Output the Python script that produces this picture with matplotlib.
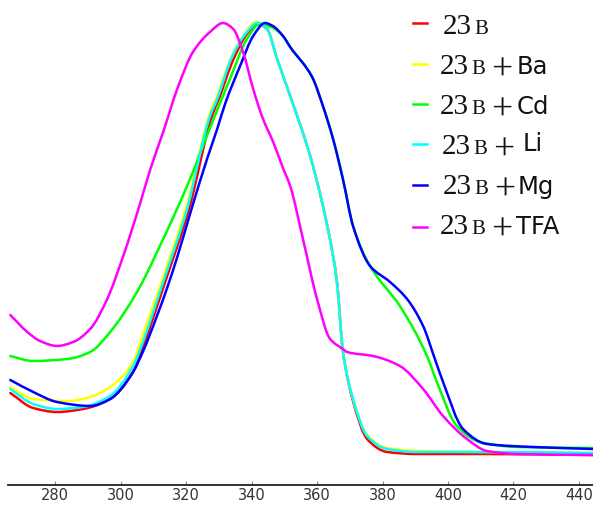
import matplotlib
matplotlib.use("Agg")
import numpy as np
import matplotlib.pyplot as plt
from matplotlib.lines import Line2D
from matplotlib.path import Path
from matplotlib.patches import PathPatch

# ---- data (wavelength nm, signal in arbitrary units) ----
red_wl = [266.3, 273.3, 280.6, 288.5, 296.8, 303.8, 306.6, 313.6, 320.9, 327.9, 330.0, 334.5,
          338.8, 341.7, 344.7, 347.8, 351.8, 357.9, 361.8, 364.9, 366.1, 367.9, 371.0, 375.3,
          381.4, 390.5, 410.7, 444.3]
red_val = [93, 78, 74, 77, 87, 114, 137, 204, 277, 370, 387, 427,
           453, 462, 457, 427, 390, 330, 280, 230, 204, 135, 85, 47,
           34, 32, 32, 31]

yellow_wl = [266.3, 273.3, 283.7, 290.7, 296.8, 303.8, 306.0, 313.0, 320.3, 327.3, 329.5, 334.0,
             338.6, 341.2, 344.7, 347.8, 351.8, 357.9, 361.8, 364.9, 366.1, 367.9, 371.0, 375.3,
             381.4, 390.5, 410.7, 444.3]
yellow_val = [99, 87, 85, 89, 99, 124, 144, 209, 282, 373, 390, 430,
              455, 464, 457, 427, 390, 330, 280, 230, 202, 135, 87, 51,
              38, 35, 34, 33]

green_wl = [266.3, 273.3, 283.7, 290.7, 296.8, 305.0, 313.0, 320.3, 327.3, 333.4, 338.6, 342.5,
            346.0, 349.6, 351.8, 358.5, 361.8, 364.9, 367.9, 371.0, 376.2, 385.3, 393.6, 396.6,
            402.7, 409.8, 421.1, 444.3]
green_val = [130, 125, 127, 134, 154, 194, 247, 300, 358, 407, 447, 462,
             459, 450, 439, 409, 380, 347, 307, 260, 220, 180, 130, 104,
             60, 44, 39, 38]

cyan_wl = [266.3, 273.3, 280.6, 288.5, 296.8, 303.8, 306.0, 313.0, 320.3, 327.3, 329.5, 334.0,
           338.6, 341.7, 344.7, 347.8, 351.8, 357.9, 361.8, 364.9, 366.1, 367.9, 371.0, 375.3,
           381.4, 390.5, 410.7, 444.3]
cyan_val = [97, 82, 77, 79, 90, 120, 137, 204, 277, 370, 387, 429,
            454, 463, 457, 427, 390, 330, 280, 230, 202, 135, 87, 50,
            37, 34, 34, 33]

blue_wl = [266.3, 273.3, 280.6, 290.7, 296.8, 303.8, 306.9, 311.1, 314.2, 317.3, 321.2, 326.4,
           329.5, 331.9, 336.5, 340.5, 344.1, 346.5, 349.6, 351.8, 358.5, 361.8, 364.9, 367.9,
           371.0, 376.2, 382.3, 387.5, 392.4, 396.0, 398.5, 404.6, 411.9, 426.0, 444.3]
blue_val = [106, 94, 84, 80, 87, 114, 135, 170, 198, 229, 272, 327,
            357, 382, 420, 450, 463, 460, 450, 439, 409, 380, 347, 307,
            260, 220, 204, 187, 160, 127, 104, 57, 42, 39, 37]

magenta_wl = [266.3, 271.5, 275.4, 280.6, 285.5, 290.7, 295.9, 300.8, 306.0, 309.0, 313.0, 317.3,
              322.1, 327.3, 331.3, 334.4, 337.4, 340.5, 343.5, 346.6, 349.6, 351.8, 355.7, 360.0,
              364.0, 367.9, 369.2, 377.1, 385.3, 392.4, 398.5, 405.8, 411.9, 421.1, 444.3]
magenta_val = [171, 154, 145, 140, 144, 157, 187, 230, 283, 316, 354, 397,
               434, 454, 463, 457, 434, 397, 367, 344, 318, 300, 247, 187,
               147, 137, 134, 130, 120, 97, 70, 47, 35, 32, 31]

x_ticks = [280, 300, 320, 340, 360, 380, 400, 420, 440]

series = [
    (red_wl, red_val, "#ff0000", "", 0),
    (yellow_wl, yellow_val, "#ffff00", "Ba", 0),
    (green_wl, green_val, "#00ff00", "Cd", 0),
    (cyan_wl, cyan_val, "#00ffff", "Li", 3),
    (blue_wl, blue_val, "#0000ff", "Mg", 0),
    (magenta_wl, magenta_val, "#ff00ff", "TFA", 0),
]


def smooth_path(x, y):
    """Monotone cubic Hermite (PCHIP) through the points, expressed as Bezier segments."""
    x = np.asarray(x, float)
    y = np.asarray(y, float)
    h = np.diff(x)
    d = np.diff(y) / h
    n = len(x)
    m = np.zeros(n)
    for k in range(1, n - 1):
        if d[k - 1] * d[k] <= 0:
            m[k] = 0.0
        else:
            w1 = 2 * h[k] + h[k - 1]
            w2 = h[k] + 2 * h[k - 1]
            m[k] = (w1 + w2) / (w1 / d[k - 1] + w2 / d[k])
    m[0] = d[0]
    m[-1] = d[-1]
    verts = [(x[0], y[0])]
    codes = [Path.MOVETO]
    for k in range(n - 1):
        verts += [(x[k] + h[k] / 3, y[k] + m[k] * h[k] / 3),
                  (x[k + 1] - h[k] / 3, y[k + 1] - m[k + 1] * h[k] / 3),
                  (x[k + 1], y[k + 1])]
        codes += [Path.CURVE4] * 3
    return Path(verts, codes)


W, H = 593, 505
fig = plt.figure(figsize=(W / 100, H / 100), dpi=100)
ax = fig.add_axes([8 / W, 20 / H, 585 / W, 485 / H])

for wl, val, col, _, _ in series:
    ax.add_patch(PathPatch(smooth_path(wl, val), facecolor="none", edgecolor=col,
                           lw=1.8, capstyle="round", joinstyle="round"))

ax.set_xlim(265.6, 444.3)
ax.set_ylim(1, 486)
for s in ("left", "right", "top"):
    ax.spines[s].set_visible(False)
ax.spines["bottom"].set_color("#222222")
ax.spines["bottom"].set_linewidth(1.3)
ax.set_yticks([])
ax.set_xticks(x_ticks)
ax.tick_params(axis="x", direction="in", length=3, width=0.8, color="#888888",
               labelsize=10.5, labelcolor="#333333", pad=2.5)


def fx(px):
    return px / W


def fy(py):
    return 1 - py / H


# manual legend
line_y = [23, 64, 104, 144, 185, 227]
base_y = [34, 74, 114, 154, 194, 234]
x23 = [443, 440, 440, 442, 443, 440]
xsuf = [None, 517, 517, 523, 518, 516]
for i, (wl, val, col, suf, raise_px) in enumerate(series):
    fig.add_artist(Line2D([fx(413), fx(427)], [fy(line_y[i]), fy(line_y[i])],
                          color=col, lw=1.8, transform=fig.transFigure))
    x0 = x23[i]
    fig.text(fx(x0), fy(base_y[i]), "23", family="Liberation Serif", fontsize=21,
             va="baseline", ha="left", color="#111111")
    fig.text(fx(x0 + 31), fy(base_y[i]), "B", family="Liberation Serif", fontsize=15,
             va="baseline", ha="left", color="#111111")
    if suf:
        fig.text(fx(x0 + 51), fy(base_y[i] + 6), "+", family="Liberation Serif", fontsize=27,
                 va="baseline", ha="left", color="#111111")
        fig.text(fx(xsuf[i]), fy(base_y[i] - raise_px), suf, family="DejaVu Sans",
                 fontsize=17.5, va="baseline", ha="left", color="#111111")

fig.savefig("out.png", dpi=100)
